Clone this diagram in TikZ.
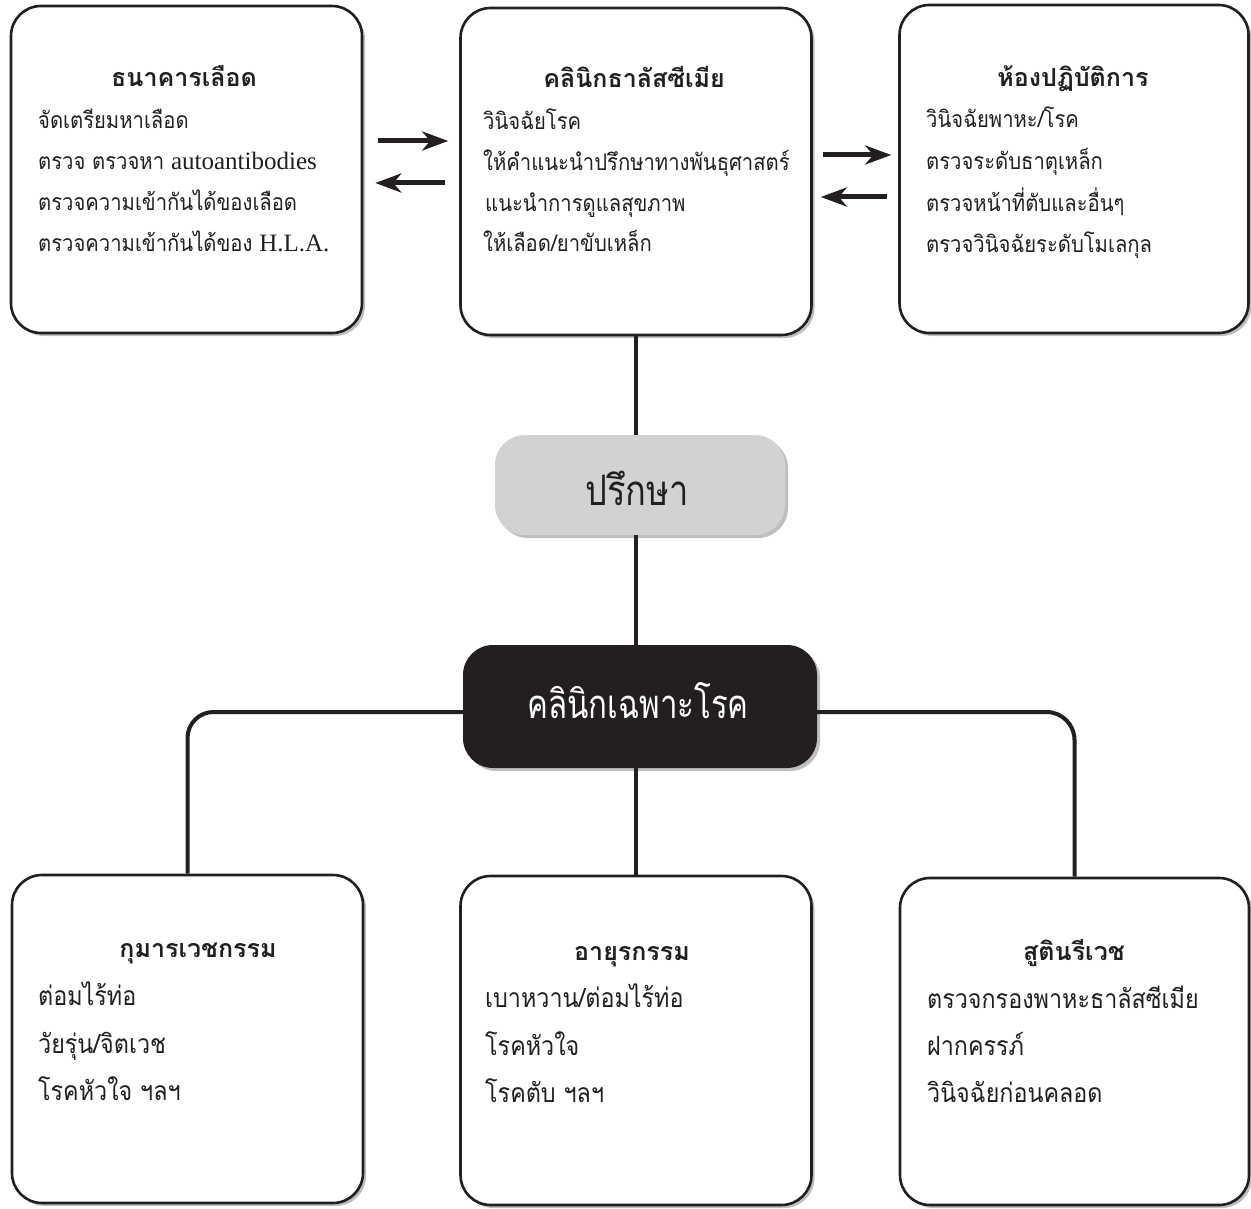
\documentclass[tikz,border=0pt]{standalone}
\usepackage{fontspec}
\newfontfamily\thai[Script=Thai]{Loma}
\newfontfamily\thain[Script=Thai,FakeStretch=0.88]{Loma}
\newfontfamily\thaip[Script=Thai,FakeStretch=0.82]{Loma}
\newfontfamily\thaik[Script=Thai,FakeStretch=0.78]{Loma}
\newfontfamily\lat{Liberation Serif}
\newcommand\latin[1]{{\lat\fontsize{25}{30}\selectfont #1}}
\usetikzlibrary{shadows,arrows.meta,calc}
\definecolor{ink}{HTML}{231F20}
\definecolor{pale}{HTML}{D1D2D4}
\tikzset{
  shd/.style={drop shadow={shadow xshift=3pt,shadow yshift=-3pt,fill=black,opacity=0.25}},
  box/.style={draw=ink,line width=2.6pt,fill=white,rounded corners=30pt,shd,
    minimum width=351pt,minimum height=327pt,inner sep=0pt},
  pbox/.style={draw=none,fill=pale,rounded corners=30pt,shd,inner sep=0pt},
  kbox/.style={draw=none,fill=ink,rounded corners=30pt,shd,inner sep=0pt},
  ttl/.style={anchor=base,inner sep=0pt,text=ink,font=\thai\bfseries\fontsize{25}{30}\selectfont},
  body/.style={anchor=base west,inner sep=0pt,text=ink,font=\thain\fontsize{23}{28}\selectfont},
  bodyb/.style={anchor=base west,inner sep=0pt,text=ink,font=\thain\fontsize{26.5}{32}\selectfont},
  conn/.style={draw=ink,line width=4pt},
  arr/.style={draw=ink,line width=5pt,-{Stealth[length=26pt,width=19pt,inset=8pt]}},
}
\begin{document}
\begin{tikzpicture}[x=1pt,y=-1pt]
\useasboundingbox (0,0) rectangle (1251,1209);
% helper levels
\coordinate (y141) at (0,141);
\coordinate (y183) at (0,183);
\coordinate (y155) at (0,155);
\coordinate (y197) at (0,197);
\coordinate (y712) at (0,712);
% top boxes
\node[box] (b1) at (186.5,169.5) {};
\node[box] (b2) at (636,171.5) {};
\node[box,minimum width=349pt,minimum height=328pt] (b3) at (1074,169) {};
% bottom boxes
\node[box,minimum height=328pt] (b4) at (187.5,1039) {};
\node[box,minimum height=329pt] (b5) at (636,1040.5) {};
\node[box,minimum width=349pt,minimum height=327pt] (b6) at (1074.5,1041.5) {};
% centre boxes
\node[pbox,minimum width=290pt,minimum height=100pt] (p) at (640,485) {};
\node[kbox,minimum width=354pt,minimum height=123pt] (k) at (640,706.5) {};
\node[anchor=base,inner sep=0pt,text=ink,font=\thaip\fontsize{42}{48}\selectfont] (pt) at (637,505) {ปรึกษา};
\node[anchor=base,inner sep=0pt,text=white,font=\thaik\fontsize{40}{48}\selectfont] (kt) at (638,718) {คลินิกเฉพาะโรค};
% connectors
\draw[conn] (b2.south) -- (b2.south |- p.north);
\draw[conn] (b2.south |- p.south) -- (b2.south |- k.north);
\draw[conn] (b5.north |- k.south) -- (b5.north);
\draw[conn,rounded corners=26pt] (k.west |- y712) -| (b4.north);
\draw[conn,rounded corners=28pt] (k.east |- y712) -| (b6.north);
% arrows
\draw[arr,shorten <=15pt,shorten >=11pt] (b1.east |- y141) -- (b2.west |- y141);
\draw[arr,shorten <=14pt,shorten >=12pt] (b2.west |- y183) -- (b1.east |- y183);
\draw[arr,shorten <=10pt,shorten >=7pt] (b2.east |- y155) -- (b3.west |- y155);
\draw[arr,shorten <=11pt,shorten >=8pt] (b3.west |- y197) -- (b2.east |- y197);
% box 1
\node[ttl] (t1) at (184,87) {ธนาคารเลือด};
\node[body] (l11) at (38,129) {จัดเตรียมหาเลือด};
\node[body] (l12) at (38,170) {ตรวจ ตรวจหา \latin{autoantibodies}};
\node[body] (l13) at (38,211) {ตรวจความเข้ากันได้ของเลือด};
\node[body] (l14) at (38,252) {ตรวจความเข้ากันได้ของ \latin{H.L.A.}};
% box 2
\node[ttl] (t2) at (634,88) {คลินิกธาลัสซีเมีย};
\node[body] (l21) at (483,130) {วินิจฉัยโรค};
\node[body] (l22) at (483,171) {ให้คำแนะนำปรึกษาทางพันธุศาสตร์};
\node[body] (l23) at (485,212) {แนะนำการดูแลสุขภาพ};
\node[body] (l24) at (483,252) {ให้เลือด/ยาขับเหล็ก};
% box 3
\node[ttl] (t3) at (1073,87) {ห้องปฏิบัติการ};
\node[body] (l31) at (926,128) {วินิจฉัยพาหะ/โรค};
\node[body] (l32) at (926,170) {ตรวจระดับธาตุเหล็ก};
\node[body] (l33) at (926,212) {ตรวจหน้าที่ตับและอื่นๆ};
\node[body] (l34) at (926,253) {ตรวจวินิจฉัยระดับโมเลกุล};
% box 4
\node[ttl] (t4) at (198,957) {กุมารเวชกรรม};
\node[bodyb] (l41) at (38,1005) {ต่อมไร้ท่อ};
\node[bodyb] (l42) at (38,1053) {วัยรุ่น/จิตเวช};
\node[bodyb] (l43) at (38,1100) {โรคหัวใจ ฯลฯ};
% box 5
\node[ttl] (t5) at (632,960) {อายุรกรรม};
\node[bodyb] (l51) at (485,1007) {เบาหวาน/ต่อมไร้ท่อ};
\node[bodyb] (l52) at (485,1055) {โรคหัวใจ};
\node[bodyb] (l53) at (485,1102) {โรคตับ ฯลฯ};
% box 6
\node[ttl] (t6) at (1074,960) {สูตินรีเวช};
\node[bodyb] (l61) at (927,1008) {ตรวจกรองพาหะธาลัสซีเมีย};
\node[bodyb] (l62) at (927,1055) {ฝากครรภ์};
\node[bodyb] (l63) at (927,1102) {วินิจฉัยก่อนคลอด};
\end{tikzpicture}
\end{document}
